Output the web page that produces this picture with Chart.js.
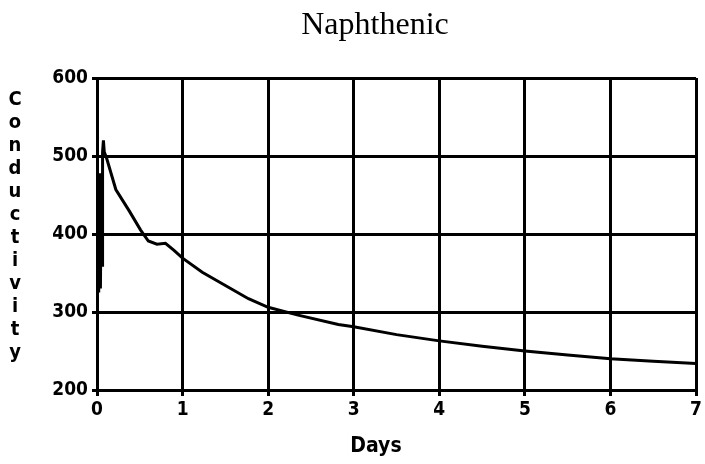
<!DOCTYPE html>
<html>
<head>
<meta charset="utf-8">
<script src="https://cdn.jsdelivr.net/npm/chart.js@4.4.1/dist/chart.umd.min.js"></script>
<style>
  html, body { margin: 0; padding: 0; background: #fff; }
  #wrap { width: 705px; height: 464px; }
</style>
</head>
<body>
<div id="wrap"><canvas id="chart"></canvas></div>
<script>
// values
const days = [0.02, 0.03, 0.04, 0.05, 0.06, 0.065, 0.075, 0.085, 0.11, 0.22, 0.38, 0.51,
              0.6, 0.7, 0.8, 0.9, 1.0, 1.23, 1.5, 1.77, 2.0, 2.35, 2.82, 3.0, 3.5, 4.0,
              4.5, 5.0, 5.5, 6.0, 6.5, 7.0];
const conductivity = [325, 478, 330, 470, 360, 505, 520, 505, 498, 457, 429, 405,
                      391, 387, 388, 379, 369, 351, 334, 317, 306, 296, 284, 281, 271, 263,
                      256, 250, 245, 240, 237, 234];

const chartTitle = "Naphthenic";
const xTitle = "Days";
const yTitle = "Conductivity";

const boldFont = "'DejaVu Sans', sans-serif";
const boldWeight = "condensed bold"; // goes into the canvas font shorthand

const points = days.map((d, i) => ({ x: d, y: conductivity[i] }));

// titles drawn where the original puts them (stacked letters on the y side)
const textPlugin = {
    id: "oldTexts",
    afterDraw(chart) {
        const ctx = chart.ctx;
        ctx.save();
        ctx.fillStyle = "#000";
        ctx.textAlign = "center";

        ctx.font = "32px 'Liberation Serif', 'Times New Roman', serif";
        ctx.textBaseline = "alphabetic";
        ctx.fillText(chartTitle, 375, 34);

        ctx.font = boldWeight + " 21px " + boldFont;
        ctx.textBaseline = "middle";
        ctx.fillText(xTitle, 376, 447);

        ctx.font = boldWeight + " 20px " + boldFont;
        const letters = yTitle.split("");
        letters.forEach((ch, i) => {
            ctx.fillText(ch, 15, 100 + i * 23);
        });
        ctx.restore();
    }
};

const bgPlugin = {
    id: "whiteBg",
    beforeDraw(chart) {
        const ctx = chart.ctx;
        ctx.save();
        ctx.fillStyle = "#fff";
        ctx.fillRect(0, 0, chart.width, chart.height);
        ctx.restore();
    }
};

new Chart(document.getElementById("chart"), {
    type: "scatter",
    data: {
        datasets: [{
            data: points,
            showLine: true,
            borderColor: "#000",
            borderWidth: 3,
            pointRadius: 0,
            tension: 0
        }]
    },
    options: {
        responsive: true,
        maintainAspectRatio: false,
        animation: false,
        layout: { padding: { top: 78, right: 1, left: 0, bottom: 24 } },
        plugins: {
            legend: { display: false },
            tooltip: { enabled: false }
        },
        scales: {
            x: {
                type: "linear",
                min: 0,
                max: 7,
                ticks: {
                    stepSize: 1,
                    color: "#000",
                    padding: 3,
                    font: { family: boldFont, weight: boldWeight, size: 19 }
                },
                grid: { color: "#000", lineWidth: 3, tickLength: 6 },
                border: { color: "#000", width: 3 },
                afterFit(scale) { scale.height = 50; }
            },
            y: {
                min: 200,
                max: 600,
                ticks: {
                    stepSize: 100,
                    color: "#000",
                    padding: 4,
                    font: { family: boldFont, weight: boldWeight, size: 19 }
                },
                grid: { color: "#000", lineWidth: 3, tickLength: 5 },
                border: { color: "#000", width: 3 },
                afterFit(scale) { scale.width = 97; }
            }
        }
    },
    plugins: [bgPlugin, textPlugin]
});
</script>
</body>
</html>
